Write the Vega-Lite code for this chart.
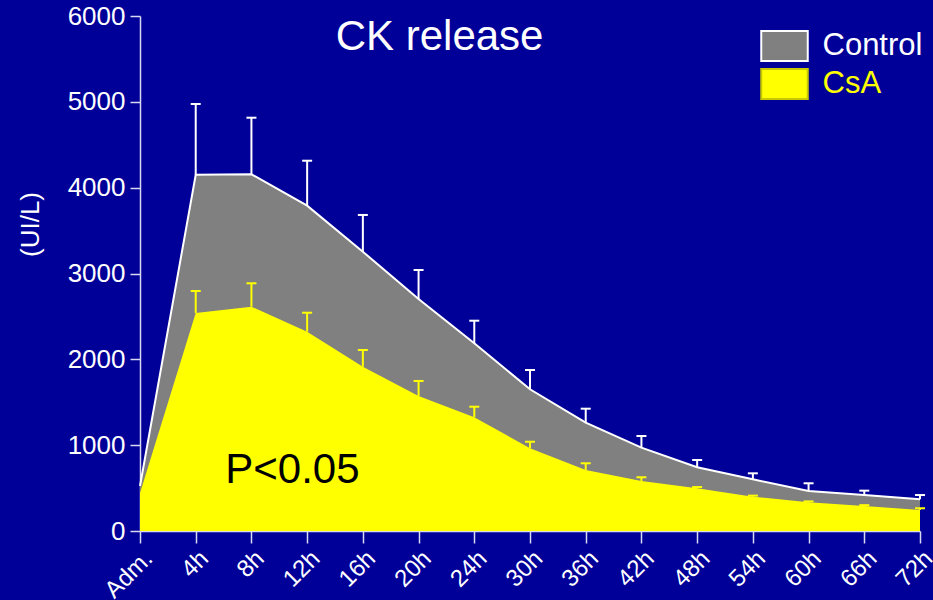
{
  "$schema": "https://vega.github.io/schema/vega-lite/v6.json",
  "width": 780,
  "height": 515,
  "autosize": "none",
  "padding": {"left": 140, "top": 16, "right": 13, "bottom": 69},
  "background": "#000099",
  "config": {
    "view": {"stroke": null},
    "font": "Liberation Sans"
  },
  "data": {
    "values": [
      {"time": "Adm.", "group": "Control", "value": 524, "upper": 524},
      {"time": "4h", "group": "Control", "value": 4150, "upper": 4975},
      {"time": "8h", "group": "Control", "value": 4156, "upper": 4815},
      {"time": "12h", "group": "Control", "value": 3790, "upper": 4314},
      {"time": "16h", "group": "Control", "value": 3254, "upper": 3682},
      {"time": "20h", "group": "Control", "value": 2703, "upper": 3041},
      {"time": "24h", "group": "Control", "value": 2187, "upper": 2450},
      {"time": "30h", "group": "Control", "value": 1651, "upper": 1876},
      {"time": "36h", "group": "Control", "value": 1262, "upper": 1425},
      {"time": "42h", "group": "Control", "value": 971, "upper": 1107},
      {"time": "48h", "group": "Control", "value": 742, "upper": 827},
      {"time": "54h", "group": "Control", "value": 602, "upper": 672},
      {"time": "60h", "group": "Control", "value": 466, "upper": 556},
      {"time": "66h", "group": "Control", "value": 419, "upper": 470},
      {"time": "72h", "group": "Control", "value": 369, "upper": 419},
      {"time": "Adm.", "group": "CsA", "value": 443, "upper": 443},
      {"time": "4h", "group": "CsA", "value": 2540, "upper": 2796},
      {"time": "8h", "group": "CsA", "value": 2613, "upper": 2886},
      {"time": "12h", "group": "CsA", "value": 2322, "upper": 2543},
      {"time": "16h", "group": "CsA", "value": 1914, "upper": 2109},
      {"time": "20h", "group": "CsA", "value": 1573, "upper": 1748},
      {"time": "24h", "group": "CsA", "value": 1325, "upper": 1448},
      {"time": "30h", "group": "CsA", "value": 965, "upper": 1040},
      {"time": "36h", "group": "CsA", "value": 711, "upper": 789},
      {"time": "42h", "group": "CsA", "value": 583, "upper": 626},
      {"time": "48h", "group": "CsA", "value": 497, "upper": 512},
      {"time": "54h", "group": "CsA", "value": 400, "upper": 412},
      {"time": "60h", "group": "CsA", "value": 334, "upper": 345},
      {"time": "66h", "group": "CsA", "value": 291, "upper": 301},
      {"time": "72h", "group": "CsA", "value": 245, "upper": 265}
    ]
  },
  "encoding": {
    "x": {
      "field": "time",
      "type": "ordinal",
      "sort": ["Adm.", "4h", "8h", "12h", "16h", "20h", "24h", "30h", "36h", "42h", "48h", "54h", "60h", "66h", "72h"],
      "scale": {"type": "point", "padding": 0},
      "axis": {
        "title": null,
        "labelAngle": -45,
        "labelFontSize": 24,
        "labelColor": "#ffffff",
        "labelFont": "Liberation Sans",
        "tickColor": "#d8d8f0",
        "domainColor": "#d8d8f0",
        "tickSize": 12,
        "tickWidth": 1.5,
        "domainWidth": 1.5,
        "labelPadding": 3,
        "grid": false
      }
    }
  },
  "layer": [
    {
      "transform": [{"filter": "datum.group === 'Control'"}],
      "mark": {"type": "area", "opacity": 1, "color": "#808080", "line": {"color": "#ffffff", "strokeWidth": 2, "opacity": 1}},
      "encoding": {
        "y": {
          "field": "value",
          "type": "quantitative",
          "stack": null,
          "scale": {"domain": [0, 6000], "nice": false},
          "axis": {
            "title": "(UI/L)",
            "titleFontSize": 26,
            "titleFontWeight": "normal",
            "titleColor": "#ffffff",
            "titleFont": "Liberation Sans",
            "titleX": -110,
            "titleY": 208,
            "titleAngle": -90,
            "titleBaseline": "middle",
            "values": [0, 1000, 2000, 3000, 4000, 5000, 6000],
            "format": "d",
            "labelFontSize": 26,
            "labelColor": "#ffffff",
            "labelFont": "Liberation Sans",
            "tickColor": "#d8d8f0",
            "domainColor": "#d8d8f0",
            "tickSize": 10,
            "tickWidth": 1.5,
            "domainWidth": 1.5,
            "labelPadding": 5,
            "grid": false
          }
        }
      }
    },
    {
      "transform": [{"filter": "datum.group === 'Control' && datum.upper > datum.value"}],
      "mark": {"type": "rule", "color": "#ffffff", "strokeWidth": 2},
      "encoding": {
        "y": {"field": "value", "type": "quantitative"},
        "y2": {"field": "upper"}
      }
    },
    {
      "transform": [{"filter": "datum.group === 'Control' && datum.upper > datum.value"}],
      "mark": {"type": "tick", "color": "#ffffff", "size": 10, "thickness": 2, "opacity": 1},
      "encoding": {
        "y": {"field": "upper", "type": "quantitative"}
      }
    },
    {
      "transform": [{"filter": "datum.group === 'CsA'"}],
      "mark": {"type": "area", "opacity": 1, "color": "#ffff00"},
      "encoding": {
        "y": {"field": "value", "type": "quantitative", "stack": null}
      }
    },
    {
      "transform": [{"filter": "datum.group === 'CsA' && datum.upper > datum.value"}],
      "mark": {"type": "rule", "color": "#ffff00", "strokeWidth": 2},
      "encoding": {
        "y": {"field": "value", "type": "quantitative"},
        "y2": {"field": "upper"}
      }
    },
    {
      "transform": [{"filter": "datum.group === 'CsA' && datum.upper > datum.value"}],
      "mark": {"type": "tick", "color": "#ffff00", "size": 10, "thickness": 2, "opacity": 1},
      "encoding": {
        "y": {"field": "upper", "type": "quantitative"}
      }
    },
    {
      "transform": [{"filter": "datum.group === 'none'"}],
      "mark": {"type": "point", "filled": true, "opacity": 1, "strokeWidth": 2},
      "encoding": {
        "y": {"field": "value", "type": "quantitative"},
        "fill": {
          "field": "group",
          "type": "nominal",
          "scale": {"domain": ["Control", "CsA"], "range": ["#808080", "#ffff00"]},
          "legend": {
            "title": null,
            "orient": "none",
            "legendX": 628.5,
            "legendY": 14,
            "padding": 0,
            "symbolType": "M-1.55,-1H1.55V1H-1.55Z",
            "symbolSize": 900,
            "symbolOpacity": 1,
            "symbolStrokeWidth": 2,
            "labelFontSize": 31,
            "labelFont": "Liberation Sans",
            "labelOffset": 22,
            "rowPadding": 0,
            "encode": {
              "labels": {"update": {"fill": {"signal": "datum.label === 'Control' ? '#ffffff' : '#ffff00'"}}}
            }
          }
        },
        "stroke": {
          "field": "group",
          "type": "nominal",
          "scale": {"domain": ["Control", "CsA"], "range": ["#ffffff", "#c8c800"]},
          "legend": {
            "title": null,
            "orient": "none",
            "legendX": 628.5,
            "legendY": 14,
            "padding": 0,
            "symbolType": "M-1.55,-1H1.55V1H-1.55Z",
            "symbolSize": 900,
            "symbolOpacity": 1,
            "symbolStrokeWidth": 2,
            "labelFontSize": 31,
            "labelFont": "Liberation Sans",
            "labelOffset": 22,
            "rowPadding": 0,
            "encode": {
              "labels": {"update": {"fill": {"signal": "datum.label === 'Control' ? '#ffffff' : '#ffff00'"}}}
            }
          }
        }
      }
    },
    {
      "data": {"values": [{"label": "P<0.05"}]},
      "mark": {"type": "text", "fontSize": 42, "font": "Liberation Sans", "fill": "#000000", "align": "center", "baseline": "alphabetic", "dx": 41},
      "encoding": {
        "text": {"field": "label"},
        "x": {"datum": "8h"},
        "y": {"datum": 560}
      }
    },
    {
      "data": {"values": [{"label": "CK release"}]},
      "mark": {"type": "text", "fontSize": 42, "font": "Liberation Sans", "fill": "#ffffff", "align": "center", "baseline": "alphabetic", "dx": 21},
      "encoding": {
        "text": {"field": "label"},
        "x": {"datum": "20h"},
        "y": {"datum": 5604}
      }
    }
  ]
}
